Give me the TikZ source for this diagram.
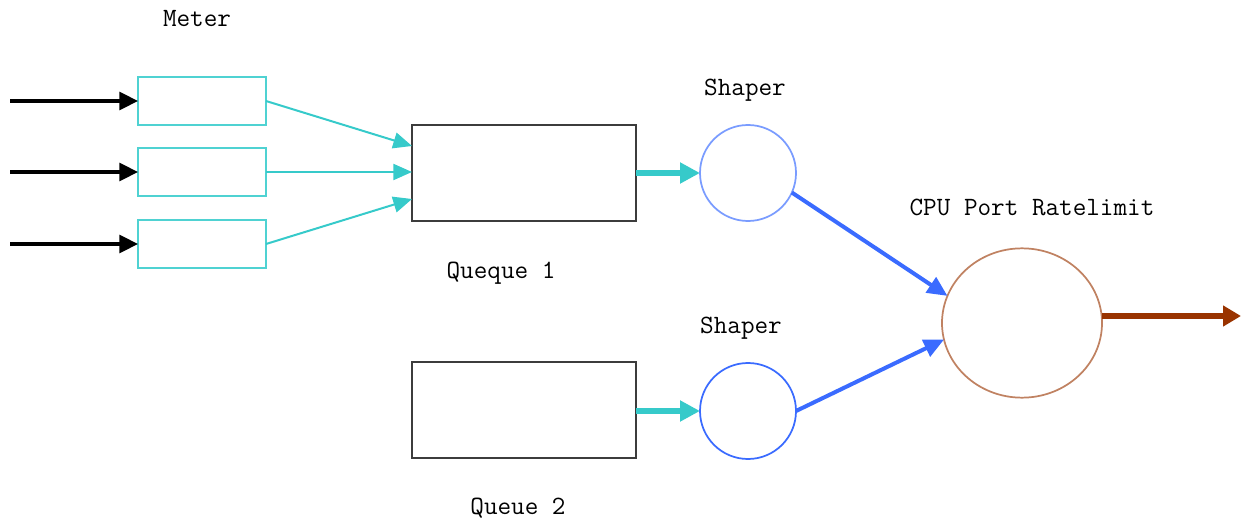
\documentclass[tikz,border=0pt]{standalone}
\usetikzlibrary{arrows.meta,shapes.geometric,calc}
\definecolor{cyanline}{HTML}{36CACA}
\definecolor{meterbox}{HTML}{4FD2D2}
\definecolor{lightblue}{HTML}{7A9CFF}
\definecolor{shblue}{HTML}{3A6BFF}
\definecolor{cpubrown}{HTML}{C08262}
\definecolor{outbrown}{HTML}{993300}
\definecolor{qgray}{HTML}{3C3C3C}
\tikzset{
  meterbox/.style={draw=meterbox, line width=1.5pt, minimum width=96pt, minimum height=36pt, inner sep=0pt, outer sep=0pt},
  queuebox/.style={draw=qgray, line width=1.5pt, minimum width=168pt, minimum height=72pt, inner sep=0pt, outer sep=0pt},
  shaper/.style={circle, line width=1.3pt, minimum size=72pt, inner sep=0pt, outer sep=0pt},
  cpunode/.style={ellipse, draw=cpubrown, line width=1.3pt, minimum width=120pt, minimum height=112pt, inner sep=0pt, outer sep=0pt},
  lbl/.style={font=\ttfamily\fontsize{19.8}{22}\selectfont, inner sep=0pt},
  inarrow/.style={draw=black, line width=2.3pt, -{Triangle[length=14pt,width=13.5pt]}},
  cyanarrow/.style={draw=cyanline, line width=1.5pt, -{Triangle[length=14pt,width=12pt]}},
  thickcyan/.style={draw=cyanline, line width=3.8pt, -{Triangle[length=15pt,width=15pt]}},
  bluearrow/.style={draw=shblue, line width=3pt, -{Triangle[length=15pt,width=13.5pt]}},
  outarrow/.style={draw=outbrown, line width=3.8pt, -{Triangle[length=13.5pt,width=15pt]}},
}
\begin{document}
\begin{tikzpicture}[x=0.75pt,y=-0.75pt]
\useasboundingbox (0,0) rectangle (1242,520);
% labels
\node[lbl] (lmeter) at (197,19) {Meter};
\node[lbl] (lshaper1) at (745,90) {Shaper};
\node[lbl] (lq1) at (501,273) {Queque 1};
\node[lbl] (lshaper2) at (741,328) {Shaper};
\node[lbl] (lq2) at (518,508) {Queue 2};
\node[lbl] (lcpu) at (1032,207) {CPU Port Ratelimit};
% meters
\node[meterbox] (m1) at (202,101) {};
\node[meterbox] (m2) at (202,172) {};
\node[meterbox] (m3) at (202,244) {};
% inputs
\coordinate (i1) at (10,101);
\coordinate (i2) at (10,172);
\coordinate (i3) at (10,244);
\draw[inarrow] (i1) -- (m1.west);
\draw[inarrow] (i2) -- (m2.west);
\draw[inarrow] (i3) -- (m3.west);
% queues
\node[queuebox] (q1) at (524,173) {};
\node[queuebox] (q2) at (524,410) {};
\draw[cyanarrow] (m1.east) -- ($(q1.west)+(0,-27)$);
\draw[cyanarrow] (m2.east) -- (m2.east -| q1.west);
\draw[cyanarrow] (m3.east) -- ($(q1.west)+(0,26)$);
% shapers
\node[shaper, draw=lightblue] (s1) at (748,173) {};
\node[shaper, draw=shblue] (s2) at (748,411) {};
\draw[thickcyan] (q1.east) -- (s1.west);
\draw[thickcyan] (q2.east |- s2.west) -- (s2.west);
% cpu
\node[cpunode] (cpu) at (1022,323) {};
\draw[bluearrow] (s1.-24) -- (cpu.160);
\draw[bluearrow] (s2.east) -- (cpu.192);
\coordinate (out) at (1241,316);
\draw[outarrow] (cpu.east |- out) -- (out);
\end{tikzpicture}
\end{document}
